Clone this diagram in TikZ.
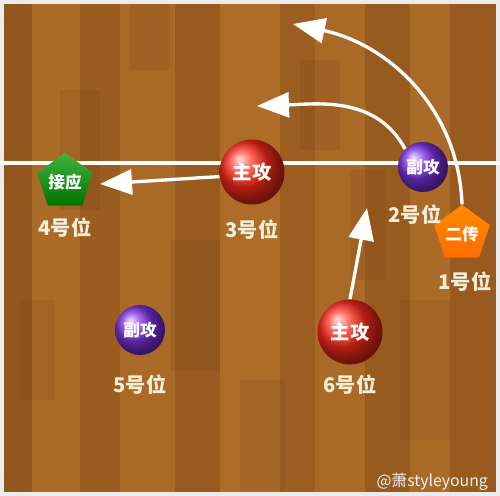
\documentclass[tikz,border=0pt]{standalone}
\usepackage{fontspec}
\setmainfont{Noto Sans CJK SC}
\usepackage{xcolor}
\usepackage{tikz}
\usetikzlibrary{arrows.meta,positioning,shapes.geometric}
\definecolor{wood}{RGB}{162,98,34}
\definecolor{woodlight}{RGB}{200,136,60}
\definecolor{wooddark}{RGB}{112,62,20}
\definecolor{purp}{RGB}{125,50,230}
\definecolor{cream}{RGB}{246,238,214}

\begin{document}
\begin{tikzpicture}[
  x=0.02cm,y=-0.02cm,
  node distance=1cm,
  on grid,
  >={Triangle[length=6.4mm,width=5mm]},
  every ball/.style={circle,shading=ball,inner sep=0pt,text=white,
    font=\bfseries\fontsize{11}{13}\selectfont},
  red ball/.style={every ball,ball color=red!85!orange!90!white,minimum size=1.3cm},
  purple ball/.style={every ball,ball color=purp,minimum size=1cm,
    font=\bfseries\fontsize{9.5}{11}\selectfont},
  penta/.style={regular polygon,regular polygon sides=5,inner sep=0pt,
    text=white,font=\bfseries\fontsize{9.5}{11}\selectfont},
  spot label/.style={text=cream,font=\bfseries\fontsize{11.5}{13}\selectfont},
  pass/.style={->,draw=white,line width=1.9pt}]
  % floor: planks and court lines
  \useasboundingbox (0,0) rectangle (500,496);
  \fill[wood] (0,0) rectangle (500,496);
  \foreach \x/\w/\c/\o in {0/32/wooddark/0.3,32/48/woodlight/0.25,80/40/wooddark/0.15,
    120/55/woodlight/0.2,175/45/wooddark/0.2,220/60/woodlight/0.3,280/35/wooddark/0.12,
    315/50/woodlight/0.2,365/45/wooddark/0.18,410/40/woodlight/0.25,450/50/wooddark/0.2}
    \fill[\c,opacity=\o] (\x,0) rectangle ++(\w,496);
  \foreach \x/\y/\w/\h in {60/90/40/120,170/240/50/130,300/60/40/90,400/300/50/140,
    240/380/45/110,20/300/35/100,130/0/40/70,350/170/35/110}
    \fill[wooddark,opacity=0.15] (\x,\y) rectangle ++(\w,\h);
  \draw[white!85!gray,line width=5pt] (0,0) rectangle (500,496);
  \draw[white,line width=1.8pt] (0,163) -- (500,163);
  % players
  \node [penta,minimum size=1.16cm,top color=green!60!black!75!white,
    bottom color=green!45!black] (p4) at (65,182) {接应};
  \node [red ball]    (s3) at (252,172) {主攻};
  \node [purple ball] (s2) at (423,167) {副攻};
  \node [penta,minimum size=1.04cm,top color=orange!90!yellow,
    bottom color=orange!85!red] (p1) at (462,234) {二传};
  \node [purple ball] (s5) at (140,330) {副攻};
  \node [red ball]    (s6) at (350,332) {主攻};
  % position labels
  \node [spot label] (l4) [below=0.92cm of p4] {4号位};
  \node [spot label] (l3) [below=1.16cm of s3] {3号位};
  \node [spot label] (l2) [below=0.96cm of s2,xshift=-0.16cm] {2号位};
  \node [spot label] (l1) [below=0.96cm of p1,xshift=0.06cm] {1号位};
  \node [spot label] (l5) [below=1.1cm of s5] {5号位};
  \node [spot label] (l6) [below=1.06cm of s6] {6号位};
  % arrow tips
  \coordinate (t4) at (100,184);
  \coordinate (t2) at (257,106);
  \coordinate (t1) at (293,24);
  \coordinate (t6) at (367,208);
  \draw[pass] (s3.188) -- (t4);
  \draw[pass] (s2.135) to[out=118,in=2] (t2);
  \draw[pass] (p1.north) to[out=92,in=-12] (t1);
  \draw[pass] (s6.north) -- (t6);
  \node [text=white!90!gray,font=\small,anchor=east] (wm) at (494,482) {@萧styleyoung};
\end{tikzpicture}
\end{document}
